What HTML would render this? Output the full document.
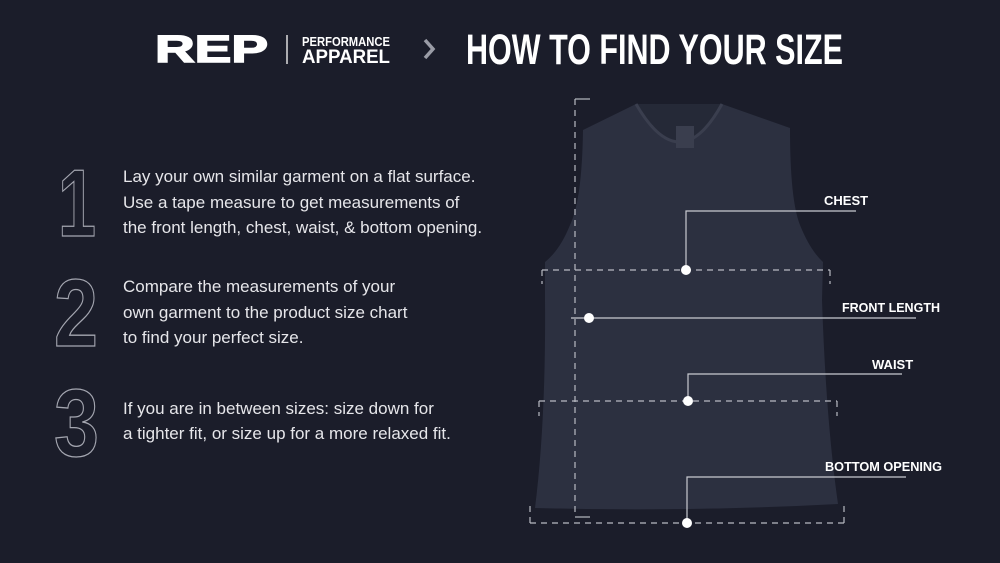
<!DOCTYPE html>
<html><head><meta charset="utf-8"><style>
html,body{margin:0;padding:0;background:#1b1d2a;}
svg{display:block}
</style></head><body>
<svg width="1000" height="563" viewBox="0 0 1000 563" xmlns="http://www.w3.org/2000/svg">
<rect width="1000" height="563" fill="#1b1d2a"/>
<!-- header -->
<text x="155" y="62" font-family="Liberation Sans, sans-serif" font-weight="900" font-size="38" fill="#fff" textLength="113" lengthAdjust="spacingAndGlyphs" stroke="#fff" stroke-width="1.5">REP</text>
<line x1="287" y1="35" x2="287" y2="64" stroke="#ddd" stroke-width="1.5"/>
<text x="302" y="46" font-family="Liberation Sans, sans-serif" font-weight="bold" font-size="13" fill="#fff" textLength="88" lengthAdjust="spacingAndGlyphs">PERFORMANCE</text>
<text x="302" y="63" font-family="Liberation Sans, sans-serif" font-weight="bold" font-size="19" fill="#fff" textLength="88" lengthAdjust="spacingAndGlyphs">APPAREL</text>
<polyline points="425,40 433,49 425,58" fill="none" stroke="#9a9ca6" stroke-width="3.5"/>
<text x="466" y="64" font-family="Liberation Sans, sans-serif" font-weight="bold" font-size="43" fill="#fff" textLength="377" lengthAdjust="spacingAndGlyphs">HOW TO FIND YOUR SIZE</text>
<!-- numbers -->
<g font-family="Liberation Sans, sans-serif" font-weight="bold" font-size="96" fill="none" stroke="#a4a6b0" stroke-width="1.3">
<text x="58" y="236" textLength="38" lengthAdjust="spacingAndGlyphs">1</text>
<text x="54" y="346" textLength="44" lengthAdjust="spacingAndGlyphs">2</text>
<text x="54" y="456" textLength="45" lengthAdjust="spacingAndGlyphs">3</text>
</g>
<g font-family="Liberation Sans, sans-serif" font-size="17" fill="#e6e6ea">
<text x="123" y="182">Lay your own similar garment on a flat surface.</text>
<text x="123" y="208">Use a tape measure to get measurements of</text>
<text x="123" y="233">the front length, chest, waist, &amp; bottom opening.</text>
<text x="123" y="292">Compare the measurements of your</text>
<text x="123" y="318">own garment to the product size chart</text>
<text x="123" y="343">to find your perfect size.</text>
<text x="123" y="414">If you are in between sizes: size down for</text>
<text x="123" y="439">a tighter fit, or size up for a more relaxed fit.</text>
</g>
<!-- shirt -->
<path d="M583,130 L636,104 Q680,118 722,104 L790,128 Q790,200 800,225 Q810,250 823,262 L822,300 Q826,420 838,504 Q690,512 535,508 Q546,420 545,300 L545,262 Q560,250 570,225 Q582,200 583,130 Z" fill="#2c3040"/>
<path d="M636,104 Q680,180 722,104" fill="#252937" stroke="#3a3e4e" stroke-width="3"/>
<rect x="676" y="126" width="18" height="22" fill="#3a3e4e"/>
<!-- dashed lines -->
<g stroke="#b8bac2" stroke-width="1.2" fill="none" stroke-dasharray="6,5">
<line x1="575" y1="99" x2="575" y2="517"/>
<line x1="542" y1="270" x2="830" y2="270"/>
<line x1="542" y1="270" x2="542" y2="284"/>
<line x1="830" y1="270" x2="830" y2="284"/>
<line x1="539" y1="401" x2="837" y2="401"/>
<line x1="539" y1="401" x2="539" y2="416"/>
<line x1="837" y1="401" x2="837" y2="416"/>
<line x1="530" y1="523" x2="844" y2="523"/>
<line x1="530" y1="506" x2="530" y2="523"/>
<line x1="844" y1="506" x2="844" y2="523"/>
</g>
<g stroke="#b8bac2" stroke-width="1.2">
<line x1="575" y1="99" x2="590" y2="99"/>
<line x1="575" y1="517" x2="590" y2="517"/>
</g>
<!-- leaders -->
<g stroke="#c8cad0" stroke-width="1.2" fill="none">
<polyline points="686,270 686,211 856,211"/>
<line x1="571" y1="318" x2="916" y2="318"/>
<polyline points="688,401 688,374 902,374"/>
<polyline points="687,523 687,477 906,477"/>
</g>
<g fill="#fff">
<circle cx="686" cy="270" r="5"/>
<circle cx="589" cy="318" r="5"/>
<circle cx="688" cy="401" r="5"/>
<circle cx="687" cy="523" r="5"/>
</g>
<g font-family="Liberation Sans, sans-serif" font-weight="bold" font-size="13" fill="#fff">
<text x="824" y="205">CHEST</text>
<text x="842" y="312" textLength="98" lengthAdjust="spacingAndGlyphs">FRONT LENGTH</text>
<text x="872" y="369">WAIST</text>
<text x="825" y="471" textLength="117" lengthAdjust="spacingAndGlyphs">BOTTOM OPENING</text>
</g>
</svg>
</body></html>
